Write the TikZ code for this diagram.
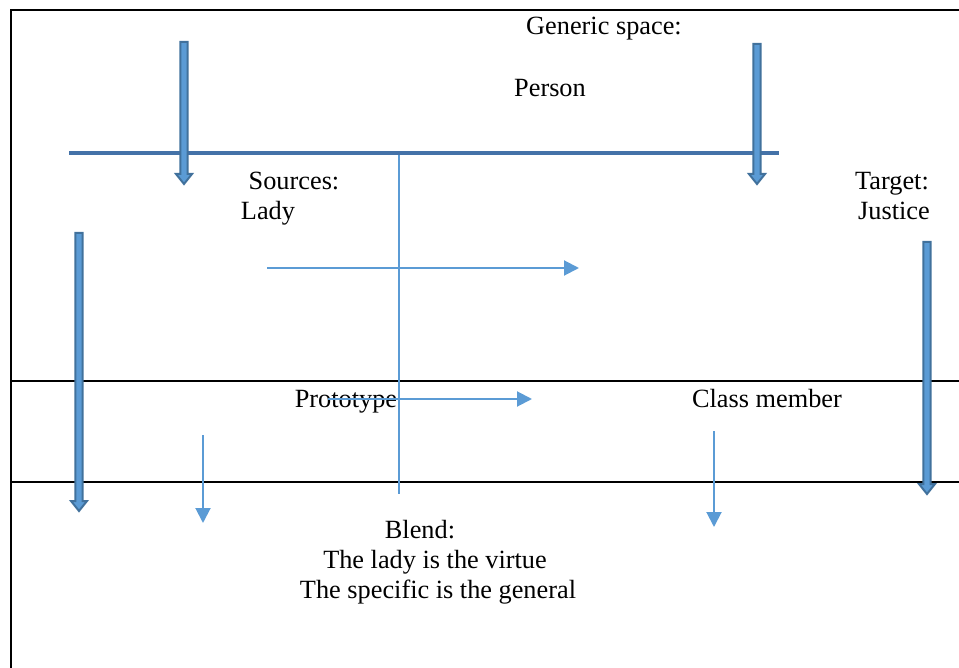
\documentclass[tikz,border=0pt]{standalone}
\usepackage{fontspec}
\setmainfont{Liberation Serif}
\usetikzlibrary{arrows.meta,calc}
\definecolor{fillblue}{HTML}{5B9BD5}
\definecolor{edgeblue}{HTML}{41719C}
\definecolor{barblue}{HTML}{4472A8}
\tikzset{
  txt/.style={anchor=base, inner sep=0pt, font=\fontsize{26.3}{30}\selectfont},
  frameline/.style={draw=black, line width=1.8pt},
  thinarrow/.style={draw=fillblue, line width=2pt, -{Triangle[length=15pt,width=15pt]}},
  thinline/.style={draw=fillblue, line width=1.3pt},
  bar/.style={draw=barblue, line width=4pt},
  blockarrow/.style={fill=fillblue, draw=edgeblue, line width=2pt, line join=miter}
}
\newcommand\blockarr[2]{%
  \path[blockarrow] ($(#1)+(-3.6,0)$) -- ($(#2)+(-3.6,-11)$) -- ($(#2)+(-8,-11)$) -- ($(#2)+(0,-1)$)
    -- ($(#2)+(8,-11)$) -- ($(#2)+(3.6,-11)$) -- ($(#1)+(3.6,0)$) -- cycle;}
\begin{document}
\begin{tikzpicture}[x=1pt,y=-1pt]
\useasboundingbox (0,0) rectangle (959,668);
% frame
\coordinate (fbl) at (11,668);
\coordinate (ftl) at (11,10);
\coordinate (ftr) at (960,10);
\draw[frameline] (fbl) -- (ftl) -- (ftr);
\coordinate (l1a) at (11,381); \coordinate (l1b) at (960,381);
\coordinate (l2a) at (11,482); \coordinate (l2b) at (960,482);
\draw[frameline] (l1a) -- (l1b);
\draw[frameline] (l2a) -- (l2b);
% texts
\node[txt] (generic) at (604,35) {Generic space:};
\node[txt] (person) at (550,97) {Person};
\node[txt] (sources) at (294,190) {Sources:};
\node[txt] (lady) at (268,220) {Lady};
\node[txt] (target) at (892,190) {Target:};
\node[txt] (justice) at (894,220) {Justice};
\node[txt] (proto) at (346,407) {Prototype};
\node[txt] (member) at (767,407) {Class member};
\node[txt] (blend) at (420,538) {Blend:};
\node[txt] (blend1) at (435,568) {The lady is the virtue};
\node[txt] (blend2) at (438,598) {The specific is the general};
% thin blue lines
\coordinate (v1) at (399,153); \coordinate (v2) at (399,494);
\draw[thinline] (v1) -- (v2);
\coordinate (h1a) at (267,268); \coordinate (h1b) at (579,268);
\draw[thinarrow] (h1a) -- (h1b);
\coordinate (h2a) at (328,399); \coordinate (h2b) at (532,399);
\draw[thinarrow] (h2a) -- (h2b);
\coordinate (d1a) at (203,435); \coordinate (d1b) at (203,523);
\draw[thinarrow] (d1a) -- (d1b);
\coordinate (d2a) at (714,431); \coordinate (d2b) at (714,527);
\draw[thinarrow] (d2a) -- (d2b);
% thick bar
\coordinate (bara) at (69,153); \coordinate (barb) at (779,153);
\draw[bar] (bara) -- (barb);
% block arrows
\coordinate (b1s) at (184,42); \coordinate (b1e) at (184,185);
\coordinate (b2s) at (757,44); \coordinate (b2e) at (757,185);
\coordinate (b3s) at (79,233); \coordinate (b3e) at (79,512);
\coordinate (b4s) at (927,242); \coordinate (b4e) at (927,495);
\blockarr{b1s}{b1e}
\blockarr{b2s}{b2e}
\blockarr{b3s}{b3e}
\blockarr{b4s}{b4e}
\end{tikzpicture}
\end{document}
